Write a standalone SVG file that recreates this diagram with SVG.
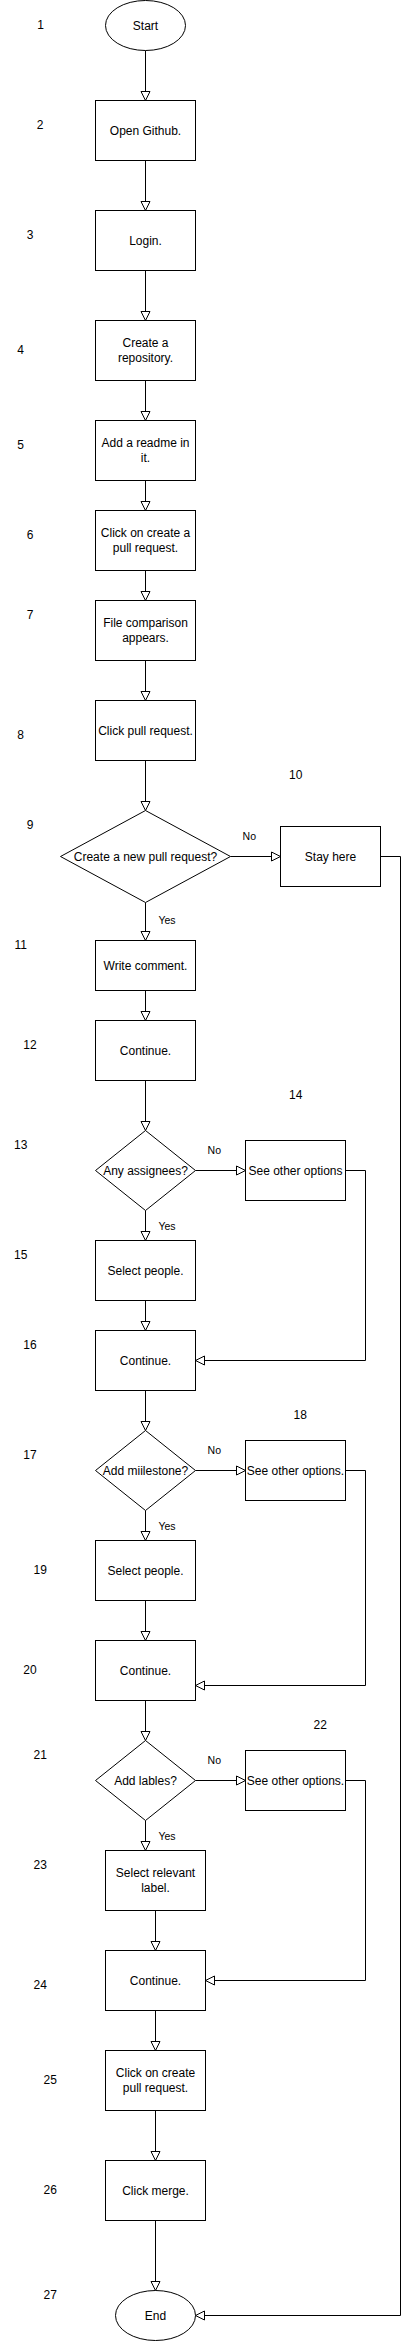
<svg xmlns="http://www.w3.org/2000/svg" width="411" height="2341" viewBox="0 0 411 2341">
<style>
.n rect,.n ellipse,.n polygon{fill:#fff;stroke:#000;stroke-width:1}
text{font-family:"Liberation Sans",Arial,Helvetica,sans-serif;fill:#000}
.t{font-size:12px;text-anchor:middle}
.num{font-size:12px;text-anchor:middle}
.el{font-size:10.5px;text-anchor:middle}
#connectors path{fill:none;stroke:#000;stroke-width:1;marker-end:url(#arr)}
</style>
<defs>
<marker id="arr" markerUnits="userSpaceOnUse" markerWidth="11" markerHeight="11" refX="9" refY="4.5" orient="auto" overflow="visible">
<path d="M0,0 L9,4.5 L0,9 Z" fill="#fff" stroke="#000" stroke-width="1"/>
</marker>
</defs>
<rect width="411" height="2341" fill="#fff"/>

<g id="connectors">
<path d="M145.5,50.5 V100.5"/>
<path d="M145.5,160.5 V210.5"/>
<path d="M145.5,270.5 V320.5"/>
<path d="M145.5,380.5 V420.5"/>
<path d="M145.5,480.5 V510.5"/>
<path d="M145.5,570.5 V600.5"/>
<path d="M145.5,660.5 V700.5"/>
<path d="M145.5,760.5 V810.5"/>
<path d="M230.5,856.5 H280.5"/>
<path d="M145.5,902.5 V940.5"/>
<path d="M380.5,856.5 H400.5 V2315.5 H195.5"/>
<path d="M145.5,990.5 V1020.5"/>
<path d="M145.5,1080.5 V1130.5"/>
<path d="M195.5,1170.5 H245.5"/>
<path d="M145.5,1210.5 V1240.5"/>
<path d="M345.5,1170.5 H365.5 V1360.5 H195.5"/>
<path d="M145.5,1300.5 V1330.5"/>
<path d="M145.5,1390.5 V1430.5"/>
<path d="M195.5,1470.5 H245.5"/>
<path d="M145.5,1510.5 V1540.5"/>
<path d="M345.5,1470.5 H365.5 V1685.5 H195.5"/>
<path d="M145.5,1600.5 V1640.5"/>
<path d="M145.5,1700.5 V1740.5"/>
<path d="M195.5,1780.5 H245.5"/>
<path d="M145.5,1820.5 V1850.5"/>
<path d="M345.5,1780.5 H365.5 V1980.5 H205.5"/>
<path d="M155.5,1910.5 V1950.5"/>
<path d="M155.5,2010.5 V2050.5"/>
<path d="M155.5,2110.5 V2160.5"/>
<path d="M155.5,2220.5 V2290.5"/>
<text class="el" x="249.3" y="839.7">No</text>
<text class="el" x="167" y="923.7">Yes</text>
<text class="el" x="214.3" y="1153.7">No</text>
<text class="el" x="167" y="1229.7">Yes</text>
<text class="el" x="214.3" y="1453.7">No</text>
<text class="el" x="167" y="1529.7">Yes</text>
<text class="el" x="214.3" y="1763.7">No</text>
<text class="el" x="167" y="1839.7">Yes</text>
</g>

<g id="n-start" class="n"><ellipse cx="145.5" cy="25.5" rx="40" ry="25"/><text class="t" x="145.5" y="29.8">Start</text></g>
<g id="n-open" class="n"><rect x="95.5" y="100.5" width="100" height="60"/><text class="t" x="145.5" y="134.8">Open Github.</text></g>
<g id="n-login" class="n"><rect x="95.5" y="210.5" width="100" height="60"/><text class="t" x="145.5" y="244.8">Login.</text></g>
<g id="n-repo" class="n"><rect x="95.5" y="320.5" width="100" height="60"/><text class="t" x="145.5" y="346.5">Create a</text><text class="t" x="145.5" y="361.5">repository.</text></g>
<g id="n-readme" class="n"><rect x="95.5" y="420.5" width="100" height="60"/><text class="t" x="145.5" y="446.5">Add a readme in</text><text class="t" x="145.5" y="461.5">it.</text></g>
<g id="n-clickcreate" class="n"><rect x="95.5" y="510.5" width="100" height="60"/><text class="t" x="145.5" y="536.5">Click on create a</text><text class="t" x="145.5" y="551.5">pull request.</text></g>
<g id="n-compare" class="n"><rect x="95.5" y="600.5" width="100" height="60"/><text class="t" x="145.5" y="626.5">File comparison</text><text class="t" x="145.5" y="641.5">appears.</text></g>
<g id="n-clickpull" class="n"><rect x="95.5" y="700.5" width="100" height="60"/><text class="t" x="145.5" y="734.8">Click pull request.</text></g>
<g id="n-newpr" class="n"><polygon points="145.5,810.5 230.5,856.5 145.5,902.5 60.5,856.5"/><text class="t" x="145.5" y="860.8">Create a new pull request?</text></g>
<g id="n-stay" class="n"><rect x="280.5" y="826.5" width="100" height="60"/><text class="t" x="330.5" y="860.8">Stay here</text></g>
<g id="n-comment" class="n"><rect x="95.5" y="940.5" width="100" height="50"/><text class="t" x="145.5" y="969.8">Write comment.</text></g>
<g id="n-cont1" class="n"><rect x="95.5" y="1020.5" width="100" height="60"/><text class="t" x="145.5" y="1054.8">Continue.</text></g>
<g id="n-assign" class="n"><polygon points="145.5,1130.5 195.5,1170.5 145.5,1210.5 95.5,1170.5"/><text class="t" x="145.5" y="1174.8">Any assignees?</text></g>
<g id="n-other1" class="n"><rect x="245.5" y="1140.5" width="100" height="60"/><text class="t" x="295.5" y="1174.8">See other options</text></g>
<g id="n-people1" class="n"><rect x="95.5" y="1240.5" width="100" height="60"/><text class="t" x="145.5" y="1274.8">Select people.</text></g>
<g id="n-cont2" class="n"><rect x="95.5" y="1330.5" width="100" height="60"/><text class="t" x="145.5" y="1364.8">Continue.</text></g>
<g id="n-milestone" class="n"><polygon points="145.5,1430.5 195.5,1470.5 145.5,1510.5 95.5,1470.5"/><text class="t" x="145.5" y="1474.8">Add miilestone?</text></g>
<g id="n-other2" class="n"><rect x="245.5" y="1440.5" width="100" height="60"/><text class="t" x="295.5" y="1474.8">See other options.</text></g>
<g id="n-people2" class="n"><rect x="95.5" y="1540.5" width="100" height="60"/><text class="t" x="145.5" y="1574.8">Select people.</text></g>
<g id="n-cont3" class="n"><rect x="95.5" y="1640.5" width="100" height="60"/><text class="t" x="145.5" y="1674.8">Continue.</text></g>
<g id="n-labels" class="n"><polygon points="145.5,1740.5 195.5,1780.5 145.5,1820.5 95.5,1780.5"/><text class="t" x="145.5" y="1784.8">Add lables?</text></g>
<g id="n-other3" class="n"><rect x="245.5" y="1750.5" width="100" height="60"/><text class="t" x="295.5" y="1784.8">See other options.</text></g>
<g id="n-relevant" class="n"><rect x="105.5" y="1850.5" width="100" height="60"/><text class="t" x="155.5" y="1876.5">Select relevant</text><text class="t" x="155.5" y="1891.5">label.</text></g>
<g id="n-cont4" class="n"><rect x="105.5" y="1950.5" width="100" height="60"/><text class="t" x="155.5" y="1984.8">Continue.</text></g>
<g id="n-createpr" class="n"><rect x="105.5" y="2050.5" width="100" height="60"/><text class="t" x="155.5" y="2076.5">Click on create</text><text class="t" x="155.5" y="2091.5">pull request.</text></g>
<g id="n-merge" class="n"><rect x="105.5" y="2160.5" width="100" height="60"/><text class="t" x="155.5" y="2194.8">Click merge.</text></g>
<g id="n-end" class="n"><ellipse cx="155.5" cy="2315.5" rx="40" ry="25"/><text class="t" x="155.5" y="2319.8">End</text></g>

<g id="numbers">
<text class="num" x="40.7" y="29">1</text>
<text class="num" x="40" y="129">2</text>
<text class="num" x="30" y="239">3</text>
<text class="num" x="20.7" y="354.3">4</text>
<text class="num" x="20.7" y="448.6">5</text>
<text class="num" x="30" y="538.6">6</text>
<text class="num" x="30" y="618.6">7</text>
<text class="num" x="20.7" y="738.6">8</text>
<text class="num" x="30" y="828.6">9</text>
<text class="num" x="295.7" y="778.6">10</text>
<text class="num" x="20.7" y="949">11</text>
<text class="num" x="30" y="1049">12</text>
<text class="num" x="20.7" y="1148.6">13</text>
<text class="num" x="295.7" y="1099">14</text>
<text class="num" x="20.7" y="1258.6">15</text>
<text class="num" x="30" y="1348.6">16</text>
<text class="num" x="30" y="1458.6">17</text>
<text class="num" x="300.3" y="1418.6">18</text>
<text class="num" x="40.3" y="1573.6">19</text>
<text class="num" x="30" y="1673.6">20</text>
<text class="num" x="40.3" y="1758.6">21</text>
<text class="num" x="320.3" y="1728.6">22</text>
<text class="num" x="40.3" y="1868.6">23</text>
<text class="num" x="40.3" y="1988.6">24</text>
<text class="num" x="50.3" y="2083.6">25</text>
<text class="num" x="50.3" y="2193.6">26</text>
<text class="num" x="50.3" y="2298.6">27</text>
</g>
</svg>
